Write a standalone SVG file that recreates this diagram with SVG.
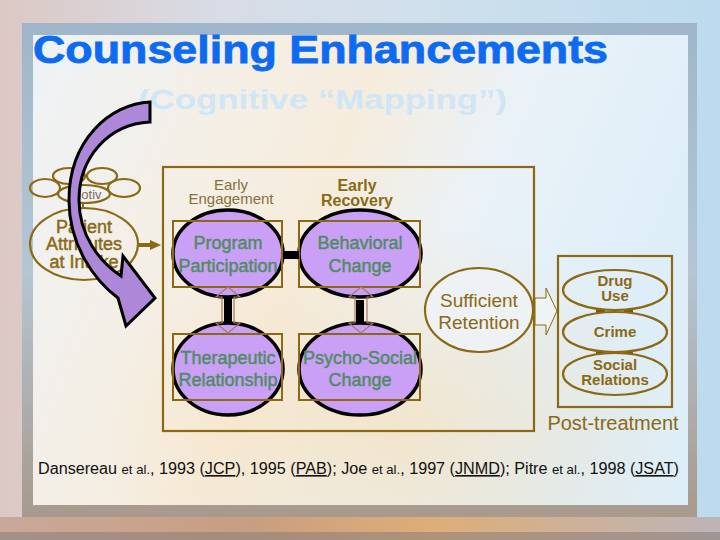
<svg xmlns="http://www.w3.org/2000/svg" width="720" height="540" viewBox="0 0 720 540">
<defs>
<linearGradient id="bg" x1="0" y1="0" x2="1" y2="0">
<stop offset="0" stop-color="#dcc8c4"/><stop offset="0.3" stop-color="#d8dce6"/><stop offset="0.6" stop-color="#cfe0ec"/><stop offset="1" stop-color="#bcdaee"/>
</linearGradient>
<linearGradient id="bgb" x1="0" y1="0" x2="1" y2="0">
<stop offset="0" stop-color="#c9a89a"/><stop offset="0.35" stop-color="#c99e80"/><stop offset="0.6" stop-color="#deae78"/><stop offset="1" stop-color="#bcb4b8"/>
</linearGradient>
<linearGradient id="frame" x1="0" y1="0" x2="0" y2="1">
<stop offset="0" stop-color="#9fb6ca"/><stop offset="0.5" stop-color="#b4c6d4"/><stop offset="1" stop-color="#a8998c"/>
</linearGradient>
<linearGradient id="panel" x1="0" y1="0" x2="1" y2="0.3">
<stop offset="0" stop-color="#eef2f6"/><stop offset="0.3" stop-color="#f4efe6"/><stop offset="0.5" stop-color="#f6ecdc"/><stop offset="0.72" stop-color="#eaf2f8"/><stop offset="1" stop-color="#deeef8"/>
</linearGradient>
<radialGradient id="warm" cx="0.55" cy="0.85" r="0.45">
<stop offset="0" stop-color="#f8dcae" stop-opacity="0.6"/><stop offset="1" stop-color="#f8dcae" stop-opacity="0"/>
</radialGradient>
<style>
.t{font-family:"Liberation Sans",Arial,sans-serif;}
.br{fill:#8b6914;}
.th{stroke-width:0.45;}
.br.th{stroke:#8b6914;}
.gr{fill:#4f8c63;stroke:#4f8c63;stroke-width:0.45;}
.ol{fill:none;stroke:#8b6914;stroke-width:2.2;}
.pe{fill:#c9a0f6;stroke:#000;stroke-width:3.5;}
.pr{fill:none;stroke:#8b6914;stroke-width:2;}
.ho{fill:none;stroke:#a57a68;stroke-width:1.2;}
.bar{fill:#000;}
</style>
</defs>
<rect width="720" height="540" fill="url(#bg)"/>
<rect x="0" y="517" width="720" height="23" fill="url(#bgb)"/>
<rect x="0" y="532" width="720" height="8" fill="#8e8079" opacity="0.6"/>
<rect x="22" y="23" width="675" height="494" fill="url(#frame)"/>
<rect x="33" y="35" width="655" height="470" fill="url(#panel)"/>
<rect x="33" y="35" width="655" height="470" fill="url(#warm)"/>

<text class="t" x="33" y="63" font-size="38" font-weight="bold" fill="#0d6bf2" stroke="#0d6bf2" stroke-width="0.8" textLength="575" lengthAdjust="spacingAndGlyphs">Counseling Enhancements</text>
<text class="t" x="138" y="109" font-size="28" font-weight="bold" fill="#cfe6f6" textLength="369" lengthAdjust="spacingAndGlyphs">(Cognitive “Mapping”)</text>

<g id="treatment-box"><rect x="163" y="167" width="371" height="264" class="ol"/></g>
<g id="post-box"><rect x="558" y="256" width="114" height="151" class="ol"/>
<text class="t br" x="613" y="430" font-size="20" text-anchor="middle">Post-treatment</text></g>

<g id="connectors">
<line x1="83" y1="202" x2="83" y2="209" stroke="#8b6914" stroke-width="2"/>
<line x1="138" y1="245" x2="152" y2="245" stroke="#8b6914" stroke-width="4"/>
<polygon points="150,240 161,245 150,250" fill="#8b6914"/>
<polygon points="535,298 546,298 546,288 557,311 546,335 546,325 535,325" fill="#eef3f4" stroke="#8b6914" stroke-width="1"/>
<rect x="596" y="310" width="9" height="3" fill="#7a5510"/><rect x="624" y="310" width="9" height="3" fill="#7a5510"/>
<rect x="596" y="351" width="9" height="3" fill="#7a5510"/><rect x="624" y="351" width="9" height="3" fill="#7a5510"/>
</g>

<g id="motiv">
<ellipse cx="69" cy="176" rx="16" ry="8" class="ol" stroke-width="2"/>
<ellipse cx="102" cy="176" rx="15" ry="8" class="ol" stroke-width="2"/>
<ellipse cx="45" cy="188" rx="15" ry="9" class="ol" stroke-width="2"/>
<ellipse cx="124" cy="188" rx="16" ry="9" class="ol" stroke-width="2"/>
<ellipse cx="84" cy="194" rx="26" ry="9" class="ol" stroke-width="2" style="fill:#f0f2f2"/>
<text class="t" x="86" y="199" font-size="13" text-anchor="middle" fill="#7c6c52">Motiv</text>
</g>
<g id="patient">
<ellipse cx="84" cy="244" rx="54" ry="36" class="ol"/>
<text class="t br th" x="84" y="233" font-size="18" text-anchor="middle">Patient</text>
<text class="t br th" x="84" y="250" font-size="18" text-anchor="middle">Attributes</text>
<text class="t br th" x="84" y="268" font-size="18" text-anchor="middle">at Intake</text>
</g>

<g id="early-engagement">
<text class="t" x="231" y="190" font-size="15" text-anchor="middle" fill="#85703f">Early</text>
<text class="t" x="231" y="204" font-size="15" text-anchor="middle" fill="#85703f">Engagement</text>
</g>
<g id="early-recovery">
<text class="t br" x="357" y="191" font-size="16" font-weight="bold" text-anchor="middle">Early</text>
<text class="t br" x="357" y="206" font-size="16" font-weight="bold" text-anchor="middle">Recovery</text>
</g>

<g id="program"><ellipse cx="228" cy="253.5" rx="55" ry="43.5" class="pe"/><rect x="173" y="221" width="109" height="66" class="pr"/>
<text class="t gr" x="228" y="249" font-size="18" text-anchor="middle">Program</text>
<text class="t gr" x="228" y="272" font-size="18" text-anchor="middle">Participation</text></g>
<g id="behavioral"><ellipse cx="360" cy="253.5" rx="61" ry="43.5" class="pe"/><rect x="299" y="221" width="121" height="66" class="pr"/>
<text class="t gr" x="360" y="249" font-size="18" text-anchor="middle">Behavioral</text>
<text class="t gr" x="360" y="272" font-size="18" text-anchor="middle">Change</text></g>
<g id="therapeutic"><ellipse cx="228" cy="369" rx="55" ry="46" class="pe"/><rect x="173" y="334" width="109" height="66" class="pr"/>
<text class="t gr" x="228" y="364" font-size="18" text-anchor="middle">Therapeutic</text>
<text class="t gr" x="228" y="386" font-size="18" text-anchor="middle">Relationship</text></g>
<g id="psychosocial"><ellipse cx="360" cy="369" rx="61" ry="46" class="pe"/><rect x="299" y="334" width="121" height="66" class="pr"/>
<text class="t gr" x="360" y="364" font-size="18" text-anchor="middle">Psycho-Social</text>
<text class="t gr" x="360" y="386" font-size="18" text-anchor="middle">Change</text></g>

<g id="inner-links">
<polygon points="228,287 240,297 234,297 234,323 240,323 228,333 216,323 222,323 222,297 216,297" class="ho"/>
<polygon points="361,287 373,297 367,297 367,323 373,323 361,333 349,323 355,323 355,297 349,297" class="ho"/>
<rect x="224" y="297" width="8" height="27" class="bar"/>
<rect x="356" y="300" width="8" height="24" class="bar"/>
<rect x="283" y="251" width="16" height="8" class="bar"/>
</g>

<g id="retention">
<ellipse cx="479" cy="310" rx="54" ry="42" class="ol" style="fill:#eef2f4"/>
<text class="t br" x="479" y="307" font-size="19" text-anchor="middle">Sufficient</text>
<text class="t br" x="479" y="329" font-size="19" text-anchor="middle">Retention</text>
</g>
<g id="drug"><ellipse cx="615" cy="290" rx="52" ry="20" class="ol"/>
<text class="t br" x="615" y="286" font-size="15" font-weight="bold" text-anchor="middle">Drug</text>
<text class="t br" x="615" y="301" font-size="15" font-weight="bold" text-anchor="middle">Use</text></g>
<g id="crime"><ellipse cx="615" cy="332" rx="52" ry="20" class="ol"/>
<text class="t br" x="615" y="337" font-size="15" font-weight="bold" text-anchor="middle">Crime</text></g>
<g id="social"><ellipse cx="615" cy="374" rx="52" ry="21" class="ol"/>
<text class="t br" x="615" y="370" font-size="15" font-weight="bold" text-anchor="middle">Social</text>
<text class="t br" x="615" y="385" font-size="15" font-weight="bold" text-anchor="middle">Relations</text></g>

<g id="curved-arrow">
<path d="M150,102 C110,104 69,140 69,200 C69,245 94,280 118,298 L126,326 L155,298 L123,256 L121,276 C100,262 79,236 79,200 C79,158 108,124 150,122 Z" fill="#ad87d8" stroke="#000" stroke-width="3" stroke-linejoin="miter"/>
</g>

<text class="t" x="38" y="474" font-size="16" fill="#111" textLength="641" lengthAdjust="spacingAndGlyphs">Dansereau <tspan font-size="13">et al.</tspan>, 1993 (<tspan text-decoration="underline">JCP</tspan>), 1995 (<tspan text-decoration="underline">PAB</tspan>); Joe <tspan font-size="13">et al.</tspan>, 1997 (<tspan text-decoration="underline">JNMD</tspan>); Pitre <tspan font-size="13">et al.</tspan>, 1998 (<tspan text-decoration="underline">JSAT</tspan>)</text>
</svg>
